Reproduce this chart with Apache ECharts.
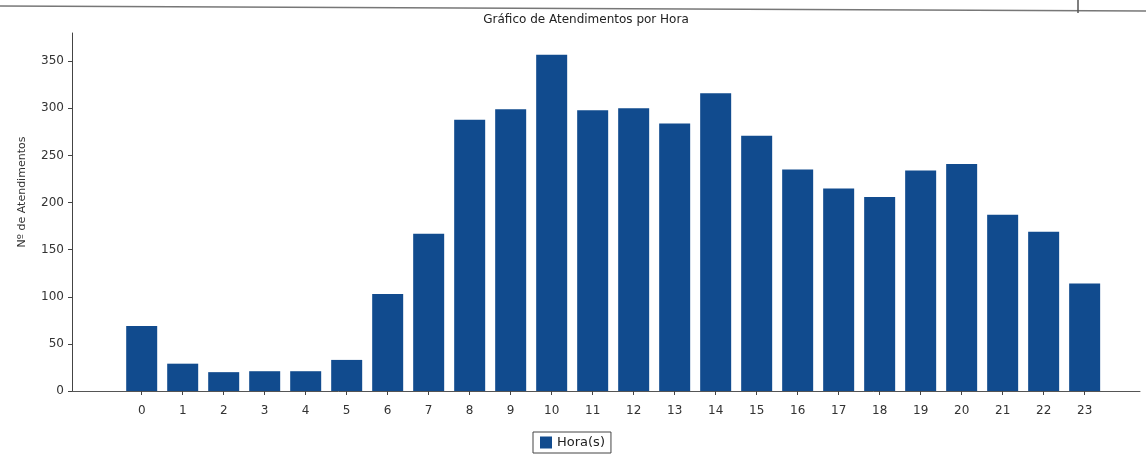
<!DOCTYPE html>
<html>
<head>
<meta charset="utf-8">
<script src="https://cdn.jsdelivr.net/npm/echarts@6/dist/echarts.min.js"></script>
<style>
  html, body { margin: 0; padding: 0; background: #ffffff; }
  #chart { width: 1146px; height: 464px; }
</style>
</head>
<body>
<div id="chart"></div>
<script>
// ---- data ----
const hours = [0, 1, 2, 3, 4, 5, 6, 7, 8, 9, 10, 11, 12, 13, 14, 15, 16, 17, 18, 19, 20, 21, 22, 23];
const atendimentos = [69, 29, 20, 21, 21, 33, 103, 167, 288, 299, 357, 298, 300, 284, 316, 271, 235, 215, 206, 234, 241, 187, 169, 114];
const yTicks = [0, 50, 100, 150, 200, 250, 300, 350];
const chartTitle = 'Gráfico de Atendimentos por Hora';
const yName = 'Nº de Atendimentos';
const seriesName = 'Hora(s)';

const font = 'DejaVu Sans';
const chart = echarts.init(document.getElementById('chart'), null, { renderer: 'canvas' });

chart.setOption({
  backgroundColor: '#ffffff',
  animation: false,
  title: {
    text: chartTitle,
    left: 581,
    textAlign: 'center',
    top: 9,
    textStyle: { fontFamily: font, fontSize: 12, fontWeight: 'normal', color: '#222' }
  },
  legend: {
    data: [seriesName],
    left: 533,
    top: 432,
    icon: 'rect',
    itemWidth: 12,
    itemHeight: 12,
    padding: [4, 6, 4, 7],
    borderColor: '#444',
    borderWidth: 1,
    textStyle: { fontFamily: font, fontSize: 13, color: '#222' }
  },
  grid: { left: 72, right: 6, top: 33, bottom: 73, containLabel: false },
  xAxis: {
    type: 'value',
    min: -1.7,
    max: 24.35,
    splitLine: { show: false },
    axisLine: { show: true, onZero: false, lineStyle: { color: '#555', width: 1 } },
    axisTick: { show: true, customValues: hours, length: 4, lineStyle: { color: '#444' } },
    axisLabel: {
      customValues: hours,
      margin: 14,
      fontFamily: font, fontSize: 12, color: '#333'
    }
  },
  yAxis: {
    type: 'value',
    min: 0,
    max: 380,
    name: yName,
    nameLocation: 'middle',
    nameGap: 44,
    nameTextStyle: { fontFamily: font, fontSize: 11, color: '#333', padding: [0, 0, 0, 40] },
    splitLine: { show: false },
    axisLine: { show: true, onZero: false, lineStyle: { color: '#444', width: 1 } },
    axisTick: { show: true, customValues: yTicks, length: 4, lineStyle: { color: '#444' } },
    axisLabel: { customValues: yTicks, margin: 8, fontFamily: font, fontSize: 12, color: '#333' }
  },
  graphic: [
    { type: 'line', shape: { x1: 0, y1: 6, x2: 1146, y2: 11 }, style: { stroke: '#777', lineWidth: 1.5 } },
    { type: 'line', shape: { x1: 1078, y1: 0, x2: 1078, y2: 13 }, style: { stroke: '#555', lineWidth: 1.5 } }
  ],
  series: [{
    name: seriesName,
    type: 'bar',
    barWidth: 31,
    itemStyle: { color: '#114b8e' },
    data: hours.map((h, i) => [h, atendimentos[i]])
  }]
});
</script>
</body>
</html>
